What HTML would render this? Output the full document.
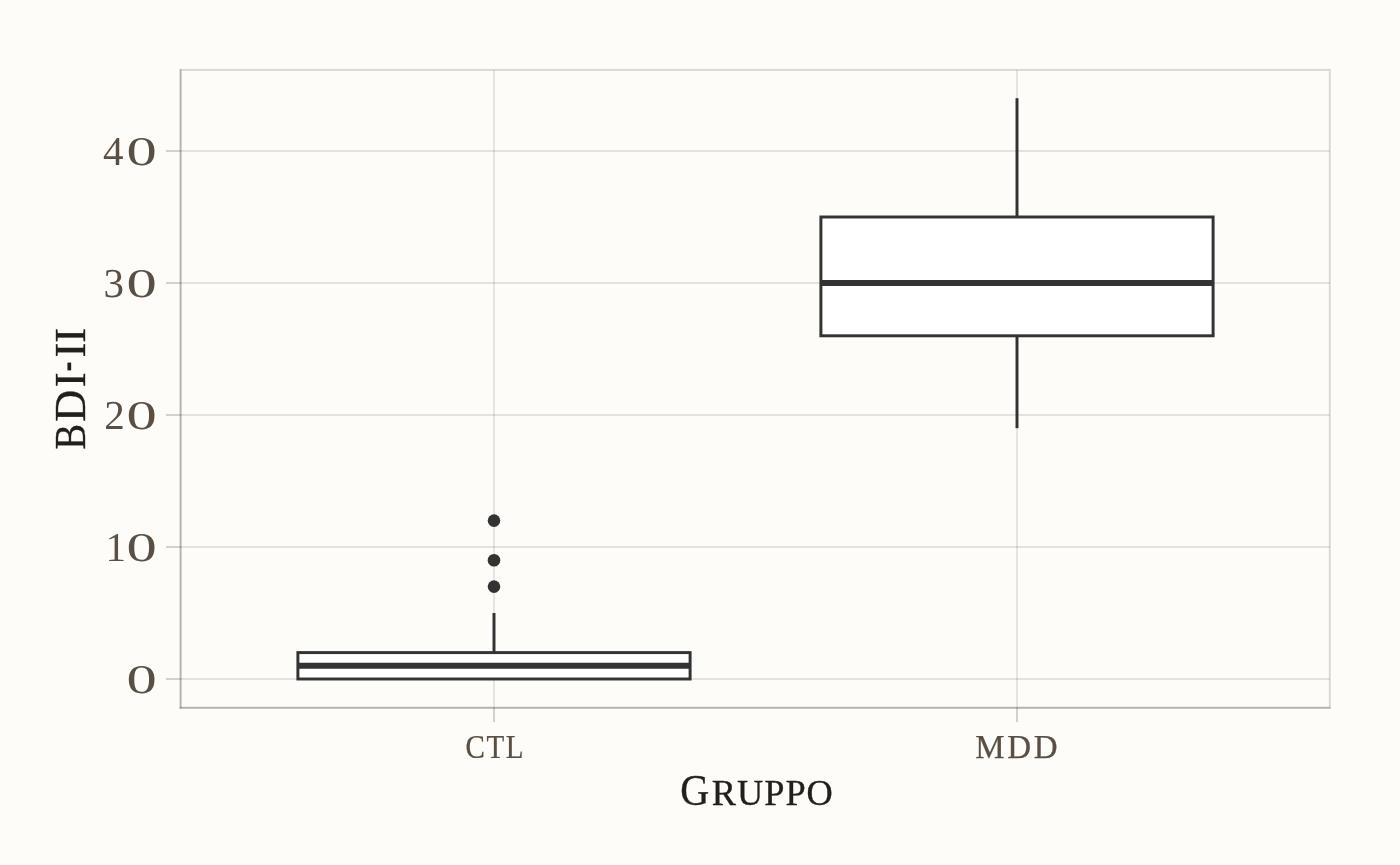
<!DOCTYPE html>
<html lang="it">
<head>
<meta charset="utf-8">
<title>BDI-II per Gruppo</title>
<style>
html,body{margin:0;padding:0;background:#fdfcf8;}
body{width:1400px;height:865px;overflow:hidden;}
svg{display:block;}
text{font-family:"Liberation Serif",serif;}
.tk{fill:#5a4f45;font-size:41px;}
.tk .z{font-size:40.8px;}
.xl{fill:#5a4f45;font-size:33px;stroke:#5a4f45;stroke-width:0.25px;}
.ti{fill:#221f1c;stroke:#221f1c;stroke-width:0.35px;}
</style>
</head>
<body>
<svg width="1400" height="865" viewBox="0 0 1400 865">
<rect x="0" y="0" width="1400" height="865" fill="#fdfcf8"/>
<!-- grid -->
<g stroke="#000" stroke-opacity="0.1" stroke-width="1.8" fill="none">
<line x1="180.5" x2="1329.8" y1="151" y2="151"/>
<line x1="180.5" x2="1329.8" y1="283" y2="283"/>
<line x1="180.5" x2="1329.8" y1="415" y2="415"/>
<line x1="180.5" x2="1329.8" y1="547" y2="547"/>
<line x1="180.5" x2="1329.8" y1="679" y2="679"/>
<line x1="494" x2="494" y1="70" y2="707.8"/>
<line x1="1017" x2="1017" y1="70" y2="707.8"/>
</g>
<!-- boxes -->
<g stroke="#333333" stroke-width="2.96" fill="none" stroke-linecap="butt">
<line x1="494" x2="494" y1="652.6" y2="613"/>
<rect x="297.9" y="652.6" width="392.2" height="26.4" fill="#ffffff"/>
<line x1="297.9" x2="690.1" y1="665.8" y2="665.8" stroke-width="5.9"/>
<line x1="1017" x2="1017" y1="217" y2="98.2"/>
<line x1="1017" x2="1017" y1="335.8" y2="428.2"/>
<rect x="820.9" y="217" width="392.2" height="118.8" fill="#ffffff"/>
<line x1="820.9" x2="1213.1" y1="283" y2="283" stroke-width="5.9"/>
</g>
<g fill="#333333">
<circle cx="494" cy="520.6" r="6.3"/>
<circle cx="494" cy="560.2" r="6.3"/>
<circle cx="494" cy="586.6" r="6.3"/>
</g>
<!-- panel border + axis lines -->
<rect x="180.6" y="69.9" width="1149.2" height="637.9" fill="none" stroke="#000" stroke-opacity="0.145" stroke-width="1.9"/>
<g stroke="#000" stroke-opacity="0.17" stroke-width="1.9">
<line x1="180.6" x2="180.6" y1="69" y2="708.8"/>
<line x1="179.5" x2="1330.8" y1="707.8" y2="707.8"/>
</g>
<!-- ticks -->
<g stroke="#000" stroke-opacity="0.17" stroke-width="2">
<line x1="166" x2="180.5" y1="151" y2="151"/>
<line x1="166" x2="180.5" y1="283" y2="283"/>
<line x1="166" x2="180.5" y1="415" y2="415"/>
<line x1="166" x2="180.5" y1="547" y2="547"/>
<line x1="166" x2="180.5" y1="679" y2="679"/>
<line x1="494" x2="494" y1="707.8" y2="722"/>
<line x1="1017" x2="1017" y1="707.8" y2="722"/>
</g>
<!-- y labels -->
<g class="tk">
<text transform="translate(0,165) rotate(0.05)"><tspan x="103" y="0">4</tspan><tspan class="z" x="126.6" y="-0.2" textLength="30.3" lengthAdjust="spacingAndGlyphs">0</tspan></text>
<text transform="translate(0,297) rotate(0.05)"><tspan x="103.5" y="0">3</tspan><tspan class="z" x="126.6" y="-0.2" textLength="30.3" lengthAdjust="spacingAndGlyphs">0</tspan></text>
<text transform="translate(0,429) rotate(0.05)"><tspan x="104.3" y="0">2</tspan><tspan class="z" x="126.6" y="-0.2" textLength="30.3" lengthAdjust="spacingAndGlyphs">0</tspan></text>
<text transform="translate(0,561) rotate(0.05)"><tspan x="105.4" y="0">1</tspan><tspan class="z" x="126.6" y="-0.2" textLength="30.3" lengthAdjust="spacingAndGlyphs">0</tspan></text>
<text transform="translate(0,693) rotate(0.05)"><tspan class="z" x="126.6" y="-0.2" textLength="30.3" lengthAdjust="spacingAndGlyphs">0</tspan></text>
</g>
<!-- x labels -->
<text class="xl" transform="translate(465.4,758.4) scale(0.88,1)" x="0" y="0" letter-spacing="1.9">CTL</text>
<text class="xl" x="1017.7" y="758.4" text-anchor="middle" letter-spacing="2.7">MDD</text>
<!-- titles -->
<text class="ti" x="680.2" y="804.8" font-size="43.6px"><tspan textLength="29" lengthAdjust="spacingAndGlyphs">G</tspan><tspan font-size="36.3px" dx="2.6" letter-spacing="1" style="text-transform:uppercase">ruppo</tspan></text>
<text class="ti" transform="translate(85,449.6) rotate(-90)" font-size="44.5px"><tspan textLength="25.5" lengthAdjust="spacingAndGlyphs">B</tspan><tspan dx="2.3 2.5">DI</tspan><tspan dx="1.2" dy="-5" textLength="9.5" lengthAdjust="spacingAndGlyphs">-</tspan><tspan dx="4.1" dy="5">II</tspan></text>
</svg>
</body>
</html>
